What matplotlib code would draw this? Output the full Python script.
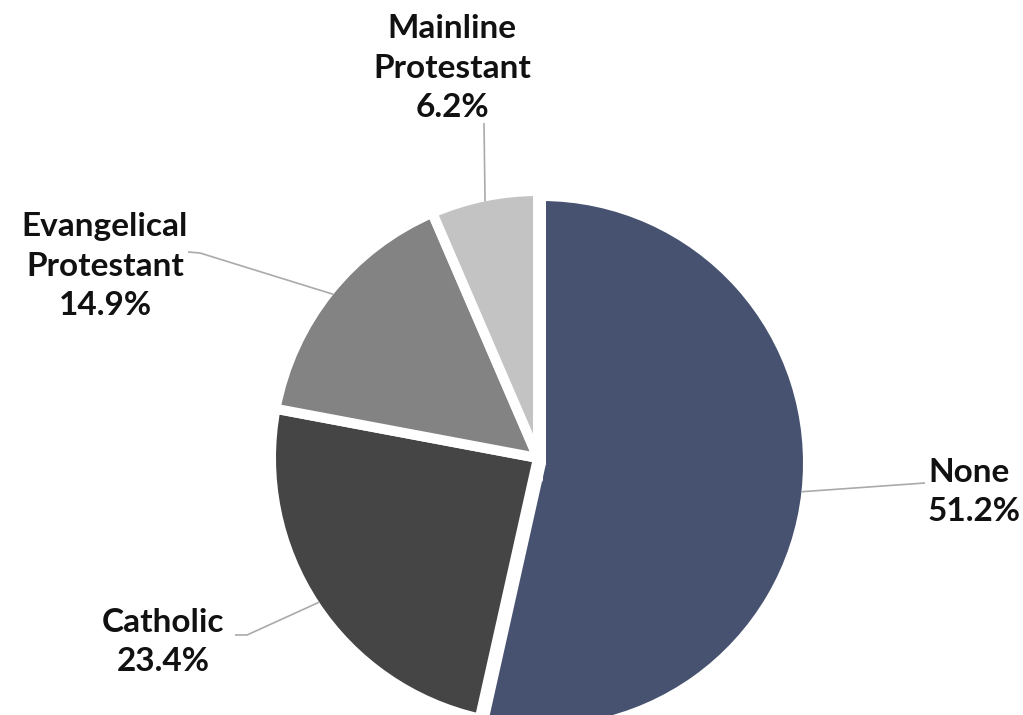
import numpy as np
import matplotlib
matplotlib.use("Agg")
import matplotlib.pyplot as plt

# data
labels = ["None", "Catholic", "Evangelical\nProtestant", "Mainline\nProtestant"]
values = [51.2, 23.4, 14.9, 6.2]
colors = ["#465270", "#454545", "#838383", "#c3c3c3"]

W, H = 1023, 715
plt.rcParams['font.family'] = ['Lato', 'DejaVu Sans']

fig = plt.figure(figsize=(W/100, H/100), dpi=100)
ax = fig.add_axes([0, 0, 1, 1])
ax.set_xlim(0, W)
ax.set_ylim(0, H)
ax.set_aspect('equal')
ax.axis('off')

def img(x, y):
    # image pixel coords (y down) -> data coords
    return x, H - y

cx, cy = img(538, 458)
R = 267
edge = 7.2

wedges, _ = ax.pie(values, colors=colors, startangle=90, counterclock=False,
                   center=(cx, cy), radius=R, normalize=True,
                   wedgeprops=dict(edgecolor='white', linewidth=edge))
# None slice sits slightly off the others
wedges[0].set_center(img(541, 463))
ax.set_xlim(0, W)
ax.set_ylim(0, H)
for w in wedges:
    w.set_clip_on(True)

# label layout: (text pos, ha, leader elbow/end points)
layout = [
    (img(928, 492), 'left', [img(925, 483)]),
    (img(163, 642), 'center', [img(247, 635), img(235, 635)]),
    (img(105, 266), 'center', [img(200, 253), img(188, 252)]),
    (img(452, 68), 'center', [img(484, 123)]),
]

for w, lab, v, (tpos, ha, pts) in zip(wedges, labels, values, layout):
    phi = np.deg2rad((w.theta1 + w.theta2) / 2)
    wx, wy = w.center
    rv = R - 5
    start = (wx + rv*np.cos(phi), wy + rv*np.sin(phi))
    xs = [start[0]] + [p[0] for p in pts]
    ys = [start[1]] + [p[1] for p in pts]
    ax.plot(xs, ys, color='#aaaaaa', lw=1.2, solid_capstyle='butt')
    ax.text(tpos[0], tpos[1], f"{lab}\n{v}%", ha=ha, va='center',
            multialignment='center' if ha == 'center' else 'left',
            fontsize=24, fontweight='bold', color='#111111', linespacing=1.45)

fig.savefig("out.png", dpi=100)
